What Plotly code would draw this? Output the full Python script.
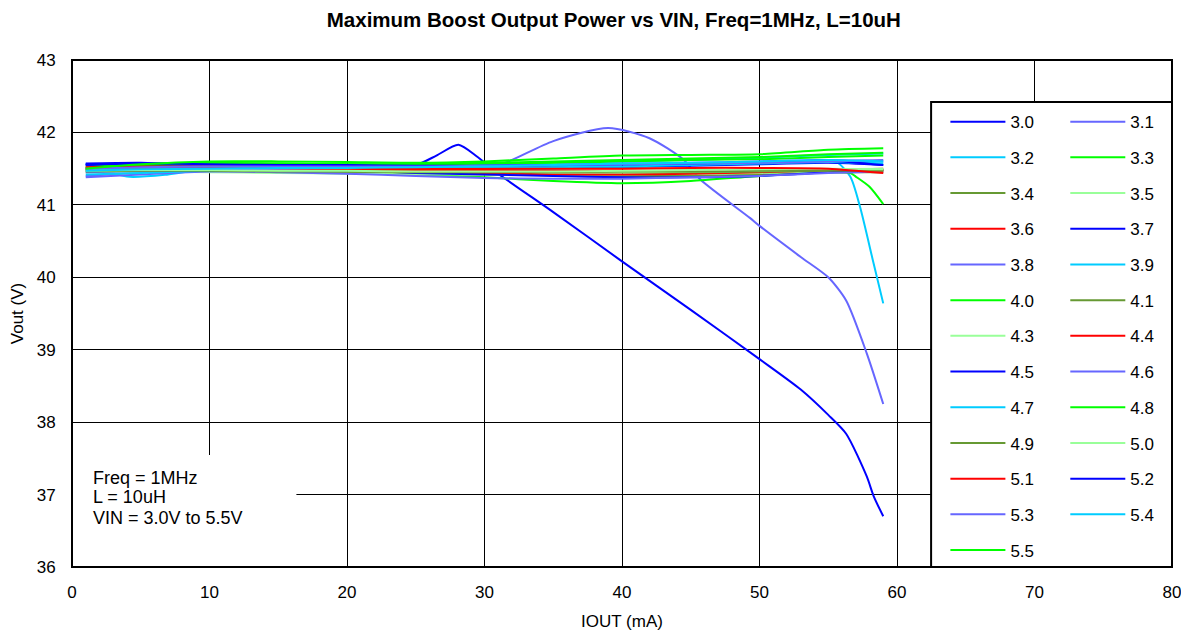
import plotly.graph_objects as go

# ---------------- data ----------------
X_COMMON = [1, 5, 10, 15, 20, 25, 30, 35, 40, 45, 50, 55, 59]

vin_labels = ["3.0", "3.1", "3.2", "3.3", "3.4", "3.5", "3.6", "3.7", "3.8", "3.9",
              "4.0", "4.1", "4.3", "4.4", "4.5", "4.6", "4.7", "4.8", "4.9", "5.0",
              "5.1", "5.2", "5.3", "5.4", "5.5"]

x_30 = [1, 5, 10, 15, 20, 25, 26.5, 28.1, 29.5, 31, 35, 40, 45, 50, 53, 55, 56.3, 57.8, 58.3, 59]
y_30 = [41.55, 41.56, 41.52, 41.52, 41.50, 41.55, 41.68, 41.83, 41.66, 41.43, 40.90, 40.22,
        39.55, 38.87, 38.45, 38.10, 37.84, 37.25, 36.98, 36.70]

x_31 = [1, 5, 10, 15, 20, 25, 30, 32, 35, 39, 42, 44.5, 45.7, 49.3, 50, 53, 55, 56.3, 57.8, 59]
y_31 = [41.40, 41.45, 41.50, 41.48, 41.45, 41.44, 41.48, 41.62, 41.88, 42.06, 41.92, 41.62,
        41.35, 40.82, 40.71, 40.28, 40.00, 39.68, 38.95, 38.25]

x_32 = [1, 4, 7, 10, 15, 20, 25, 30, 35, 40, 45, 50, 54, 55.6, 56.6, 57.3, 58.3, 59]
y_32 = [41.57, 41.39, 41.42, 41.50, 41.52, 41.50, 41.48, 41.47, 41.50, 41.52, 41.55, 41.58,
        41.60, 41.59, 41.39, 40.98, 40.19, 39.64]

x_33 = [1, 5, 10, 15, 20, 25, 30, 35, 40, 45, 50, 55, 56.6, 57, 58, 59]
y_33 = [41.50, 41.52, 41.50, 41.48, 41.45, 41.42, 41.38, 41.33, 41.30, 41.33, 41.40, 41.45,
        41.44, 41.39, 41.25, 41.01]

y_34 = [41.47, 41.48, 41.47, 41.46, 41.45, 41.43, 41.42, 41.41, 41.40, 41.40, 41.42, 41.45, 41.45]
y_35 = [41.45, 41.46, 41.45, 41.44, 41.43, 41.42, 41.42, 41.42, 41.42, 41.43, 41.44, 41.46, 41.47]
y_36 = [41.48, 41.50, 41.50, 41.49, 41.48, 41.46, 41.44, 41.42, 41.42, 41.43, 41.45, 41.48, 41.50]
y_37 = [41.57, 41.58, 41.55, 41.52, 41.48, 41.44, 41.42, 41.40, 41.38, 41.38, 41.40, 41.45, 41.48]
y_38 = [41.38, 41.42, 41.46, 41.45, 41.43, 41.40, 41.37, 41.36, 41.36, 41.38, 41.40, 41.44, 41.46]
y_39 = [41.42, 41.44, 41.47, 41.49, 41.50, 41.52, 41.55, 41.58, 41.60, 41.62, 41.65, 41.69, 41.71]
y_40 = [41.52, 41.56, 41.58, 41.57, 41.56, 41.56, 41.57, 41.58, 41.60, 41.62, 41.63, 41.66, 41.68]
y_41 = [41.50, 41.51, 41.50, 41.49, 41.48, 41.47, 41.46, 41.45, 41.45, 41.45, 41.46, 41.47, 41.48]
y_43 = [41.48, 41.49, 41.49, 41.48, 41.47, 41.46, 41.46, 41.45, 41.45, 41.46, 41.47, 41.49, 41.50]
y_44 = [41.50, 41.51, 41.51, 41.50, 41.49, 41.48, 41.48, 41.47, 41.47, 41.47, 41.48, 41.49, 41.47]
y_45 = [41.55, 41.55, 41.54, 41.54, 41.53, 41.52, 41.52, 41.52, 41.53, 41.54, 41.56, 41.58, 41.55]
y_46 = [41.45, 41.47, 41.49, 41.50, 41.51, 41.52, 41.53, 41.55, 41.57, 41.58, 41.60, 41.62, 41.60]
y_47 = [41.50, 41.52, 41.53, 41.53, 41.52, 41.51, 41.51, 41.52, 41.53, 41.55, 41.57, 41.59, 41.57]
y_48 = [41.52, 41.55, 41.57, 41.57, 41.56, 41.56, 41.58, 41.60, 41.62, 41.64, 41.66, 41.70, 41.72]
y_49 = [41.46, 41.47, 41.47, 41.46, 41.46, 41.45, 41.45, 41.45, 41.46, 41.46, 41.47, 41.48, 41.47]
y_50 = [41.47, 41.48, 41.48, 41.47, 41.47, 41.46, 41.46, 41.46, 41.47, 41.48, 41.49, 41.50, 41.49]
y_51 = [41.52, 41.53, 41.53, 41.52, 41.51, 41.50, 41.50, 41.50, 41.50, 41.51, 41.51, 41.50, 41.44]
y_52 = [41.56, 41.57, 41.56, 41.55, 41.55, 41.54, 41.54, 41.55, 41.56, 41.57, 41.59, 41.61, 41.55]
y_53 = [41.50, 41.52, 41.53, 41.53, 41.53, 41.53, 41.54, 41.55, 41.56, 41.57, 41.58, 41.60, 41.62]
y_54 = [41.47, 41.49, 41.50, 41.51, 41.51, 41.52, 41.53, 41.55, 41.57, 41.58, 41.60, 41.62, 41.60]
y_55 = [41.50, 41.56, 41.60, 41.60, 41.59, 41.58, 41.60, 41.64, 41.68, 41.69, 41.70, 41.76, 41.78]

x_values = [x_30, x_31, x_32, x_33] + [X_COMMON] * 21
y_values = [y_30, y_31, y_32, y_33, y_34, y_35, y_36, y_37, y_38, y_39, y_40, y_41, y_43,
            y_44, y_45, y_46, y_47, y_48, y_49, y_50, y_51, y_52, y_53, y_54, y_55]

palette = ["#0000FF", "#6666FF", "#00CCFF", "#00FF00", "#669933", "#99FF99", "#FF0000"]

x_ticks = [0, 10, 20, 30, 40, 50, 60, 70, 80]
y_ticks = [36, 37, 38, 39, 40, 41, 42, 43]

note_lines = ["Freq = 1MHz", "L = 10uH", "VIN = 3.0V to 5.5V"]

# ---------------- figure ----------------
FONT = "Arial, Liberation Sans, sans-serif"
fig = go.Figure()

for i, (lab, xs, ys) in enumerate(zip(vin_labels, x_values, y_values)):
    fig.add_trace(go.Scatter(
        x=xs, y=ys, mode="lines", name=lab,
        line=dict(color=palette[i % 7], width=2, shape="spline", smoothing=0.7),
        legend="legend" if i % 2 == 0 else "legend2",
        legendgroup=lab,
    ))

legend_common = dict(
    font=dict(family=FONT, size=17, color="black"),
    bgcolor="rgba(0,0,0,0)", borderwidth=0,
    tracegroupgap=10.6, itemwidth=55, yanchor="top", xanchor="left",
)

note_y = [0.176, 0.138, 0.096]
annotations = [
    dict(text=t, xref="paper", yref="paper", x=0.017, y=yy, xanchor="left", yanchor="middle",
         align="left", showarrow=False, font=dict(family=FONT, size=18, color="black"))
    for t, yy in zip(note_lines, note_y)
]

fig.update_layout(
    width=1181, height=624,
    margin=dict(l=64, r=17, t=52, b=65),
    paper_bgcolor="white", plot_bgcolor="white",
    font=dict(family=FONT, size=17, color="black"),
    title=dict(text="<b>Maximum Boost Output Power vs VIN, Freq=1MHz, L=10uH</b>",
               x=0.513, xanchor="center", y=0.981, yanchor="middle",
               font=dict(family=FONT, size=20.5, color="black")),
    xaxis=dict(range=[0, 80], tickvals=x_ticks, showgrid=True, gridcolor="black", gridwidth=1,
               zeroline=False, showline=False, ticks="outside", ticklen=10,
               tickcolor="rgba(0,0,0,0)", tickfont=dict(size=17), automargin=False,
               title=dict(text="IOUT (mA)", font=dict(size=17), standoff=13)),
    yaxis=dict(range=[36, 43], tickvals=y_ticks, showgrid=True, gridcolor="black", gridwidth=1,
               zeroline=False, showline=False, ticks="outside", ticklen=12,
               tickcolor="rgba(0,0,0,0)", tickfont=dict(size=17), automargin=False,
               title=dict(text="Vout (V)", font=dict(size=17), standoff=10)),
    legend=dict(x=0.794, y=0.913, **legend_common),
    legend2=dict(x=0.903, y=0.913, **legend_common),
    shapes=[
        dict(type="rect", xref="paper", yref="paper", x0=0.781, x1=1.0, y0=0.0, y1=0.917,
             fillcolor="white", line=dict(color="black", width=2), layer="above"),
        dict(type="rect", xref="paper", yref="paper", x0=0.0, x1=0.204, y0=0.0, y1=0.221,
             fillcolor="white", line=dict(width=0), layer="above"),
        dict(type="rect", xref="paper", yref="paper", x0=0, x1=1, y0=0, y1=1,
             fillcolor="rgba(0,0,0,0)", line=dict(color="black", width=2), layer="above"),
    ],
    annotations=annotations,
)

fig.write_html("out.html")
